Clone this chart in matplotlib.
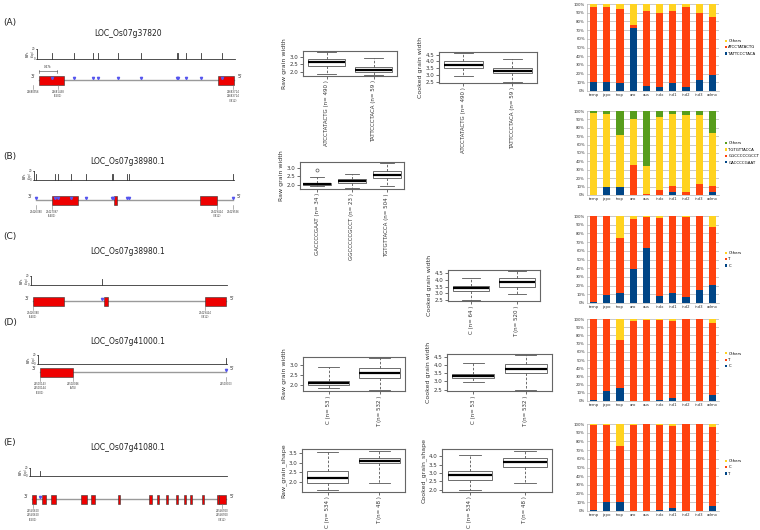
import numpy as np
import matplotlib.pyplot as plt
from matplotlib.patches import Rectangle

W, H = 760, 530

# =========================================================
# DATA
# =========================================================
pops = ["temp", "japo", "trop", "aro", "aus", "indx", "ind1", "ind2", "ind3", "admx"]

# stacked haplotype frequencies (%), bottom -> top
a_tattc = [10, 10, 9, 72, 6, 5, 9, 5, 13, 18]
a_atcct = [86, 87, 85, 4, 86, 85, 83, 91, 77, 67]
a_others = [4, 3, 6, 24, 8, 10, 8, 4, 10, 15]

b_gaccc = [0, 10, 9, 0, 0, 0, 3, 0, 0, 3]
b_ggccc = [0, 0, 0, 36, 1, 6, 8, 4, 13, 8]
b_tgtgt = [98, 87, 63, 54, 33, 87, 86, 91, 82, 63]
b_others = [2, 3, 28, 10, 66, 7, 3, 5, 5, 26]

c_c = [1, 9, 11, 39, 63, 8, 11, 7, 15, 21]
c_t = [99, 91, 64, 57, 36, 90, 89, 92, 85, 66]
c_others = [0, 0, 25, 4, 1, 2, 0, 1, 0, 13]

d_c = [1, 12, 16, 0, 0, 1, 4, 0, 0, 7]
d_t = [99, 88, 58, 98, 99, 98, 94, 100, 100, 88]
d_others = [0, 0, 26, 2, 1, 1, 2, 0, 0, 5]

e_t = [1, 10, 10, 0, 0, 1, 4, 0, 0, 6]
e_c = [98, 89, 65, 99, 100, 98, 94, 100, 100, 91]
e_others = [1, 1, 25, 1, 0, 1, 2, 0, 0, 3]

# boxplot stats: (lower whisker, q1, median, q3, upper whisker)
a_groups = ["ATCCTATACTG (n= 490 )", "TATTCCCTACA (n= 59 )"]
a_raw = [(1.9, 2.4, 2.65, 2.85, 3.3), (1.8, 2.0, 2.1, 2.3, 2.9)]
a_cooked = [(2.95, 3.5, 3.75, 4.05, 4.6), (2.5, 3.15, 3.3, 3.5, 4.15)]

b_groups = ["GACCCCGAAT (n= 34 )", "GGCCCCCGCCT (n= 23 )", "TGTGTTACCA (n= 504 )"]
b_raw = [(1.9, 1.98, 2.05, 2.1, 2.45), (1.8, 2.1, 2.25, 2.35, 2.65), (1.9, 2.4, 2.6, 2.85, 3.3)]
b_raw_out = [[2.9], [], []]

c_groups = ["C (n= 64 )", "T (n= 520 )"]
c_cooked = [(2.5, 3.15, 3.4, 3.55, 4.15), (2.95, 3.5, 3.8, 4.1, 4.65)]

d_groups = ["C (n= 53 )", "T (n= 532 )"]
d_raw = [(1.85, 2.0, 2.1, 2.2, 2.9), (1.75, 2.35, 2.6, 2.85, 3.35)]
d_cooked = [(2.95, 3.2, 3.35, 3.45, 4.15), (2.5, 3.5, 3.75, 4.05, 4.6)]

e_groups = ["C (n= 534 )", "T (n= 48 )"]
e_raw = [(1.6, 1.95, 2.2, 2.6, 3.55), (1.95, 3.0, 3.1, 3.25, 3.6)]
e_cooked = [(1.95, 2.6, 2.85, 3.15, 4.1), (2.4, 3.35, 3.65, 3.9, 4.35)]

# gene models (diagram units)
gene_names = ["LOC_Os07g37820", "LOC_Os07g38980.1", "LOC_Os07g38980.1",
              "LOC_Os07g41000.1", "LOC_Os07g41080.1"]
a_exons = [(39, 64), (218, 234)]
a_snps = [52, 74, 93, 98, 118, 141, 177, 178, 186, 201, 222]
b_exons = [(52, 78), (114, 117), (200, 217)]
b_snps = [36, 55, 58, 71, 86, 112, 113, 127, 129, 233]
c_exons = [(33, 64), (104, 108), (205, 226)]
c_snps = [102]
d_exons = [(40, 73)]
d_snps = [226]
e_exons = [(32, 36), (42, 46), (51, 56), (81, 87), (91, 95), (118, 120), (149, 152),
           (157, 159), (166, 168), (176, 178), (184, 186), (190, 192), (202, 204),
           (217, 219), (219, 226)]
e_snps = [40]
gene_spans = [(39, 234), (36, 233), (33, 226), (40, 226), (32, 226)]

a_pos_labels = [(33, "22680956"), (58, "22681438\n(5501)"), (233, "22683714\n22683714\n(3812)")]
b_pos_labels = [(36, "23426380"), (52, "23427097\n(5401)"), (217, "23429424\n(3812)"), (233, "23429536")]
c_pos_labels = [(33, "23426380\n(5401)"), (205, "23429424\n(3812)")]
d_pos_labels = [(40, "24500143\n24500144\n(5501)"), (73, "24502046\n(ATG)"), (226, "24503003")]
e_pos_labels = [(33, "24540620\n24540620\n(5501)"), (222, "24546920\n24546920\n(3812)")]

# =========================================================
# HELPERS
# =========================================================
fig = plt.figure(figsize=(7.6, 5.3), dpi=100)
fig.patch.set_facecolor("white")


def px_rect(x0, y0, x1, y1):
    return [x0 / W, 1 - y1 / H, (x1 - x0) / W, (y1 - y0) / H]


def draw_box(rect, stats, labels, ylabel, yticks, outliers=None):
    ax = fig.add_axes(px_rect(*rect))
    n = len(stats)
    bx = []
    for i, (lo, q1, med, q3, hi) in enumerate(stats):
        bx.append(dict(whislo=lo, q1=q1, med=med, q3=q3, whishi=hi,
                       fliers=outliers[i] if outliers else []))
    ax.bxp(bx, positions=list(range(1, n + 1)), widths=0.8, capwidths=0.4,
           patch_artist=True,
           boxprops=dict(facecolor="white", edgecolor="#555555", linewidth=0.6),
           medianprops=dict(color="black", linewidth=1.6),
           whiskerprops=dict(color="#555555", linestyle=(0, (3, 2)), linewidth=0.6),
           capprops=dict(color="#555555", linewidth=0.6),
           flierprops=dict(marker="o", markersize=2.2, markerfacecolor="none",
                           markeredgecolor="#555555", markeredgewidth=0.5))
    vals = [v for s in stats for v in s] + [v for o in (outliers or []) for v in o]
    lo, hi = min(vals), max(vals)
    pad = 0.04 * (hi - lo)
    ax.set_ylim(lo - pad, hi + pad)
    ax.set_xlim(0.5, n + 0.5)
    ax.set_yticks(yticks)
    ax.set_yticklabels([f"{t:.1f}" for t in yticks])
    ax.set_xticks(list(range(1, n + 1)))
    ax.set_xticklabels(labels, rotation=90)
    ax.tick_params(labelsize=4, length=2, width=0.5, pad=1, colors="#333333")
    ax.set_ylabel(ylabel, fontsize=4.5, labelpad=2, color="#333333")
    for sp in ax.spines.values():
        sp.set_color("#666666")
        sp.set_linewidth(0.8)
    return ax


def draw_stack(rect, series, names, colors):
    ax = fig.add_axes(px_rect(*rect))
    x = np.arange(len(pops))
    bottom = np.zeros(len(pops))
    handles = []
    for vals, name, c in zip(series, names, colors):
        h = ax.bar(x, vals, 0.55, bottom=bottom, color=c, label=name, zorder=2)
        handles.append(h)
        bottom += np.array(vals)
    ax.set_xlim(-0.5, len(pops) - 0.5)
    ax.set_ylim(0, 100)
    ax.set_yticks(range(0, 101, 10))
    ax.set_yticklabels([f"{v}%" for v in range(0, 101, 10)])
    ax.set_xticks(x)
    ax.set_xticklabels(pops)
    ax.tick_params(labelsize=2.8, length=0, pad=1.5, colors="#333333")
    ax.yaxis.grid(True, color="#b3b3b3", linewidth=0.5, zorder=0)
    for sp in ["top", "right"]:
        ax.spines[sp].set_visible(False)
    for sp in ["left", "bottom"]:
        ax.spines[sp].set_color("#b3b3b3")
        ax.spines[sp].set_linewidth(0.5)
    ax.legend(handles[::-1], names[::-1], loc="center left", bbox_to_anchor=(1.03, 0.5),
              frameon=False, fontsize=2.8, handlelength=0.5, handleheight=0.5,
              handletextpad=0.4, labelspacing=0.6, borderpad=0)
    return ax


BLUE, ORANGE, YELLOW, GREEN = "#004586", "#ff420e", "#ffd320", "#579d1c"

# =========================================================
# GENE DIAGRAMS (left column)
# =========================================================
gx = fig.add_axes([0, 0, 265 / W, 1])
gx.set_xlim(0, 265)
gx.set_ylim(H, 0)
gx.axis("off")

panels = [
    # label, label_y, title_y, dens_top, dens_base, gene_y, exons, snps, pos labels
    ("(A)", 23, 33, 49, 59, 80, a_exons, a_snps, a_pos_labels),
    ("(B)", 157, 162, 171, 180, 200, b_exons, b_snps, b_pos_labels),
    ("(C)", 237, 251, 276, 285, 301, c_exons, c_snps, c_pos_labels),
    ("(D)", 322, 341, 355, 364, 372, d_exons, d_snps, d_pos_labels),
    ("(E)", 442, 448, 468, 476, 499, e_exons, e_snps, e_pos_labels),
]

for i, (lab, ly, ty, dtop, dbase, gy, exons, snps, plabs) in enumerate(panels):
    x0, x1 = gene_spans[i]
    gx.text(3, ly, lab, fontsize=6.5, va="center", ha="left", color="#222222")
    gx.text(128, ty, gene_names[i], fontsize=5.5, va="center", ha="center", color="#222222")

    # SNP density track
    ax_x = x0 - 2
    gx.plot([ax_x, x1 + 1], [dbase, dbase], color="#333333", lw=0.6)
    gx.plot([ax_x, ax_x], [dtop, dbase], color="#333333", lw=0.6)
    gx.plot([ax_x - 1.5, ax_x], [dtop, dtop], color="#333333", lw=0.5)
    gx.plot([ax_x - 1.5, ax_x], [dbase, dbase], color="#333333", lw=0.5)
    gx.text(ax_x - 2, dtop, "20", fontsize=2, ha="right", va="center", color="#333333")
    gx.text(ax_x - 2, dbase, "0", fontsize=2, ha="right", va="center", color="#333333")
    gx.text(ax_x - 7, (dtop + dbase) / 2, "SNPs\n(kbp)", fontsize=1.8, rotation=90,
            ha="center", va="center", color="#333333")
    for s in snps:
        gx.plot([s, s], [dbase - 0.65 * (dbase - dtop), dbase], color="#333333", lw=0.6)

    # gene model
    gx.plot([x0, x1], [gy, gy], color="#9a9a9a", lw=1.0, zorder=1)
    for (e0, e1) in exons:
        gx.add_patch(Rectangle((e0, gy - 4.5), e1 - e0, 9, facecolor="#ee0000",
                               edgecolor="#333333", lw=0.4, zorder=2))
    for s in snps:
        gx.plot(s, gy - 2, marker="v", markersize=1.6, color="#5555ee", lw=0, zorder=3)
    gx.text(x0 - 4, gy - 3, "3'", fontsize=3.5, ha="right", va="center", color="#222222")
    gx.text(x1 + 4, gy - 3, "5'", fontsize=3.5, ha="left", va="center", color="#222222")
    for (px, txt) in plabs:
        gx.plot([px, px], [gy + 4.5, gy + 9], color="#777777", lw=0.4)
        gx.text(px, gy + 10, txt, fontsize=1.8, ha="center", va="top",
                color="#333333", linespacing=1.1)

# scale bar in (A)
gx.plot([39, 57], [71, 71], color="#444444", lw=0.4)
gx.plot([39, 39], [69.5, 72.5], color="#444444", lw=0.4)
gx.plot([57, 57], [69.5, 72.5], color="#444444", lw=0.4)
gx.text(48, 69, "0.47k", fontsize=2, ha="center", va="bottom", color="#333333")

# =========================================================
# BOXPLOTS (middle column)
# =========================================================
draw_box((303, 51, 397, 76), a_raw, a_groups, "Raw grain width", [2.0, 2.5, 3.0])
draw_box((439, 52, 537, 83), a_cooked, a_groups, "Cooked grain width", [2.5, 3.0, 3.5, 4.0, 4.5])
draw_box((300, 162, 404, 189), b_raw, b_groups, "Raw grain width", [2.0, 2.5, 3.0], b_raw_out)
draw_box((448, 270, 540, 301), c_cooked, c_groups, "Cooked grain width", [2.5, 3.0, 3.5, 4.0, 4.5])
draw_box((303, 357, 405, 391), d_raw, d_groups, "Raw grain width", [2.0, 2.5, 3.0])
draw_box((447, 354, 552, 391), d_cooked, d_groups, "Cooked grain width", [2.5, 3.0, 3.5, 4.0, 4.5])
draw_box((302, 449, 405, 492), e_raw, e_groups, "Raw_grain_shape", [2.0, 2.5, 3.0, 3.5])
draw_box((442, 449, 552, 492), e_cooked, e_groups, "Cooked_grain_shape", [2.0, 2.5, 3.0, 3.5, 4.0])

# =========================================================
# HAPLOTYPE FREQUENCY BARS (right column)
# =========================================================
draw_stack((587, 4, 719, 91), [a_tattc, a_atcct, a_others],
           ["TATTCCCTACA", "ATCCTATACTG", "Others"], [BLUE, ORANGE, YELLOW])
draw_stack((587, 111, 719, 195), [b_gaccc, b_ggccc, b_tgtgt, b_others],
           ["GACCCCGAAT", "GGCCCCCGCCT", "TGTGTTACCA", "Others"], [BLUE, ORANGE, YELLOW, GREEN])
draw_stack((587, 216, 719, 303), [c_c, c_t, c_others], ["C", "T", "Others"], [BLUE, ORANGE, YELLOW])
draw_stack((587, 319, 719, 401), [d_c, d_t, d_others], ["C", "T", "Others"], [BLUE, ORANGE, YELLOW])
draw_stack((587, 424, 719, 511), [e_t, e_c, e_others], ["T", "C", "Others"], [BLUE, ORANGE, YELLOW])

fig.savefig("out.png", dpi=100)
